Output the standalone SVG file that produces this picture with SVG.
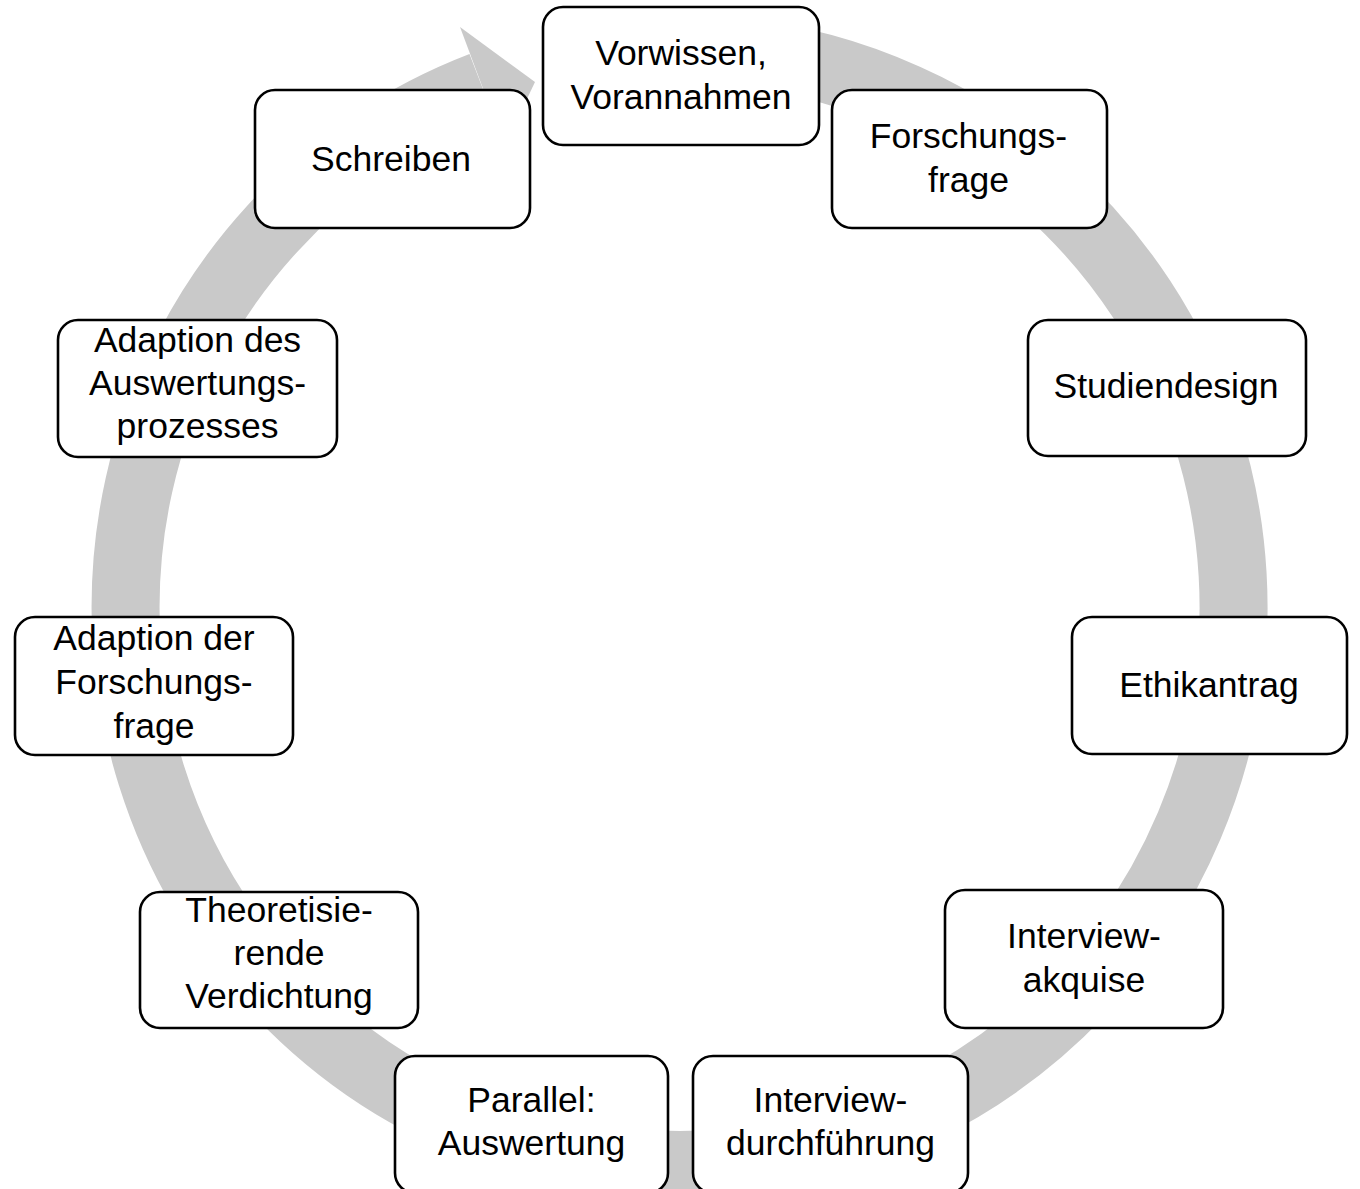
<svg xmlns="http://www.w3.org/2000/svg" width="1360" height="1189" viewBox="0 0 1360 1189">
<style>
.box{fill:#fff;stroke:#000;stroke-width:2.6}
.t{font-family:"Liberation Sans",Arial,sans-serif;font-size:35.5px;fill:#000;text-anchor:middle}
</style>
<rect width="1360" height="1189" fill="#fff"/>
<g id="connectors">
<path d="M680,49 A554,558 0 1 1 481.7,85.8" fill="none" stroke="#c9c9c9" stroke-width="68"/>
<polygon points="460,27 535,82 504.5,146" fill="#c9c9c9"/>
</g>
<g id="n1"><rect class="box" x="543" y="7" width="276" height="138" rx="20"/><text class="t" x="681" y="65">Vorwissen,</text><text class="t" x="681" y="108.5">Vorannahmen</text></g>
<g id="n2"><rect class="box" x="832" y="90" width="275" height="138" rx="20"/><text class="t" x="968.5" y="148">Forschungs-</text><text class="t" x="968.5" y="192">frage</text></g>
<g id="n3"><rect class="box" x="1028" y="320" width="278" height="136" rx="20"/><text class="t" x="1166" y="398">Studiendesign</text></g>
<g id="n4"><rect class="box" x="1072" y="617" width="275" height="137" rx="20"/><text class="t" x="1209" y="697">Ethikantrag</text></g>
<g id="n5"><rect class="box" x="945" y="890" width="278" height="138" rx="20"/><text class="t" x="1084" y="948">Interview-</text><text class="t" x="1084" y="992">akquise</text></g>
<g id="n6"><rect class="box" x="693" y="1056" width="275" height="137" rx="20"/><text class="t" x="830.5" y="1112">Interview-</text><text class="t" x="830.5" y="1155">durchführung</text></g>
<g id="n7"><rect class="box" x="395" y="1056" width="273" height="137" rx="20"/><text class="t" x="531.5" y="1112">Parallel:</text><text class="t" x="531.5" y="1155">Auswertung</text></g>
<g id="n8"><rect class="box" x="140" y="892" width="278" height="136" rx="20"/><text class="t" x="279" y="922">Theoretisie-</text><text class="t" x="279" y="965">rende</text><text class="t" x="279" y="1008">Verdichtung</text></g>
<g id="n9"><rect class="box" x="15" y="617" width="278" height="138" rx="20"/><text class="t" x="154" y="650">Adaption der</text><text class="t" x="154" y="694">Forschungs-</text><text class="t" x="154" y="738">frage</text></g>
<g id="n10"><rect class="box" x="58" y="320" width="279" height="137" rx="20"/><text class="t" x="197.5" y="352">Adaption des</text><text class="t" x="197.5" y="395">Auswertungs-</text><text class="t" x="197.5" y="438">prozesses</text></g>
<g id="n11"><rect class="box" x="255" y="90" width="275" height="138" rx="20"/><text class="t" x="391" y="171">Schreiben</text></g>
</svg>
